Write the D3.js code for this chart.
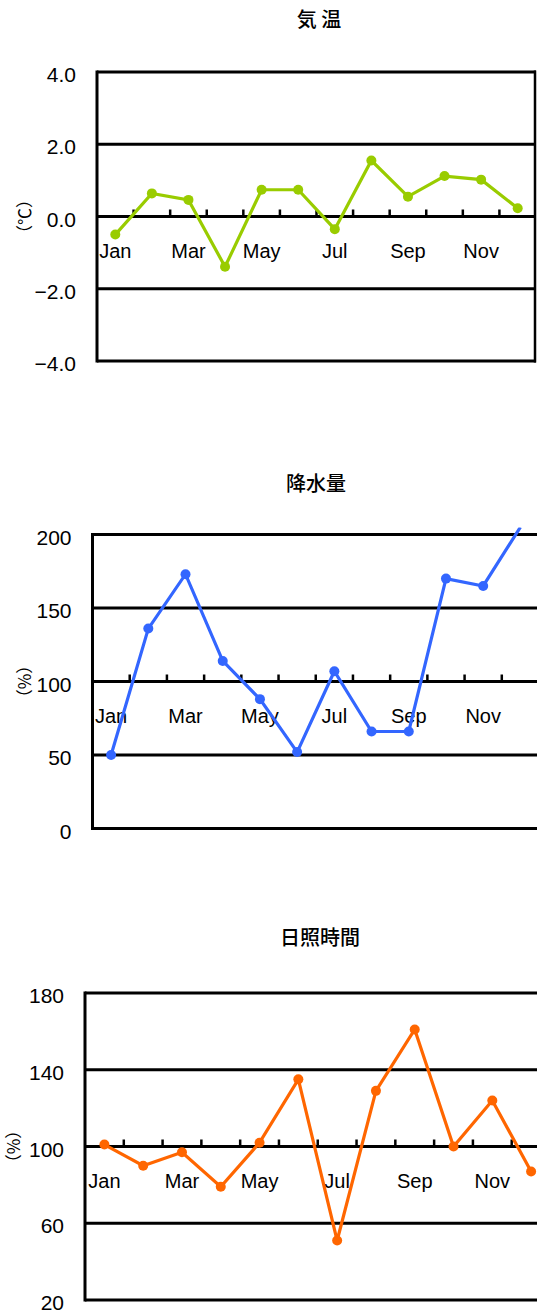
<!DOCTYPE html>
<html>
<head>
<meta charset="utf-8">
<script src="https://cdn.jsdelivr.net/npm/d3@7"></script>
<style>
  body { margin: 0; background: #fff; }
  svg { display: block; }
  .num { font-family: "Liberation Sans Narrow", "Liberation Sans", sans-serif; fill: #000; }
  .ttl { font-family: "Noto Sans CJK JP", sans-serif; fill: #000; }
</style>
</head>
<body>
<div id="chart"></div>
<script>
// data
const months = ["Jan", "Feb", "Mar", "Apr", "May", "Jun", "Jul", "Aug", "Sep", "Oct", "Nov", "Dec"];
const tempValues = [-0.5, 0.64, 0.46, -1.39, 0.74, 0.74, -0.35, 1.55, 0.55, 1.12, 1.02, 0.23];
const rainValues = [50, 136, 173, 114, 88, 52, 107, 66, 66, 170, 165, 205];
const sunValues = [101, 90, 97, 79, 102, 135, 51, 129, 161, 100, 124, 87];
const tempTicks = [-4, -2, 0, 2, 4];
const rainTicks = [0, 50, 100, 150, 200];
const sunTicks = [20, 60, 100, 140, 180];

const panels = [
  { title: "気 温", unit: "（℃）", values: tempValues, ticks: tempTicks, fmt: d3.format(".1f"),
    color: "#99cc00", cross: 0, x0: 97, x1: 536, top: 72, bottom: 361, titleX: 319, titleY: 27,
    unitX: 25, rightBorder: true },
  { title: "降水量", unit: "（%）", values: rainValues, ticks: rainTicks, fmt: d3.format("d"),
    color: "#3366ff", cross: 100, x0: 92.5, x1: 539, top: 534.5, bottom: 828.5, titleX: 316, titleY: 491,
    unitX: 25, rightBorder: false },
  { title: "日照時間", unit: "（%）", values: sunValues, ticks: sunTicks, fmt: d3.format("d"),
    color: "#ff6600", cross: 100, x0: 85, x1: 550.5, top: 993, bottom: 1300, titleX: 320, titleY: 945,
    unitX: 14, rightBorder: false }
];

const W = 537, H = 1314;
const svg = d3.select("#chart").append("svg")
    .attr("width", W)
    .attr("height", H);

panels.forEach(function(p, pi) {
  const ext = d3.extent(p.ticks);
  const x = d3.scaleBand().domain(months).range([p.x0, p.x1]);
  const y = d3.scaleLinear().domain(ext).range([p.bottom, p.top]);
  const g = svg.append("g");

  // title
  g.append("text").attr("class", "ttl")
      .attr("x", p.titleX).attr("y", p.titleY)
      .attr("text-anchor", "middle")
      .style("font-size", "20px")
      .style("font-weight", 500)
      .text(p.title);

  // horizontal grid lines (incl. top and bottom)
  g.selectAll(".grid").data(p.ticks).enter().append("line")
      .attr("x1", p.x0).attr("x2", p.x1)
      .attr("y1", d => y(d)).attr("y2", d => y(d))
      .attr("stroke", "#000").attr("stroke-width", 3);

  // y axis line
  g.append("line")
      .attr("x1", p.x0).attr("x2", p.x0)
      .attr("y1", y(ext[0]) + 1.5).attr("y2", y(ext[1]) - 1.5)
      .attr("stroke", "#000").attr("stroke-width", 3);
  if (p.rightBorder) {
    g.append("line")
        .attr("x1", p.x1 - 1).attr("x2", p.x1 - 1)
        .attr("y1", y(ext[0]) + 1.5).attr("y2", y(ext[1]) - 1.5)
        .attr("stroke", "#000").attr("stroke-width", 2.5);
  }

  // y tick labels
  g.selectAll(".yl").data(p.ticks).enter().append("text").attr("class", "num")
      .attr("x", p.x0 - 21)
      .attr("y", d => y(d) + 10)
      .attr("text-anchor", "end")
      .style("font-size", "21px")
      .text(d => p.fmt(d));

  // unit label
  g.append("text").attr("class", "ttl")
      .attr("transform", `translate(${p.unitX},${y(p.cross)}) rotate(-90)`)
      .attr("text-anchor", "middle")
      .attr("dy", "0.35em")
      .style("font-size", "17px")
      .text(p.unit);

  // category ticks on the crossing line, pointing up
  const cy = y(p.cross);
  g.selectAll(".tk").data(months.slice(1)).enter().append("line")
      .attr("x1", d => x(d)).attr("x2", d => x(d))
      .attr("y1", cy).attr("y2", cy - 7)
      .attr("stroke", "#000").attr("stroke-width", 2.5);

  // month labels, every other month
  g.selectAll(".ml").data(months.filter((d, i) => i % 2 === 0)).enter().append("text")
      .attr("class", "num")
      .attr("x", d => x(d) + x.bandwidth() / 2)
      .attr("y", cy + 41)
      .attr("text-anchor", "middle")
      .style("font-size", "20px")
      .text(d => d);

  // series
  const clipId = "clip" + pi;
  svg.append("clipPath").attr("id", clipId).append("rect")
      .attr("x", p.x0).attr("y", p.top - 7)
      .attr("width", W - p.x0).attr("height", p.bottom - p.top + 14);

  const data = months.map((m, i) => ({ m: m, v: p.values[i] }));
  const line = d3.line()
      .x(d => x(d.m) + x.bandwidth() / 2)
      .y(d => y(d.v));

  const s = g.append("g").attr("clip-path", `url(#${clipId})`);
  s.append("path").datum(data)
      .attr("d", line)
      .attr("fill", "none")
      .attr("stroke", p.color)
      .attr("stroke-width", 3.2);
  s.selectAll("circle").data(data.filter(d => d.v <= ext[1] && d.v >= ext[0])).enter().append("circle")
      .attr("cx", d => x(d.m) + x.bandwidth() / 2)
      .attr("cy", d => y(d.v))
      .attr("r", 5)
      .attr("fill", p.color);
});
</script>
</body>
</html>
